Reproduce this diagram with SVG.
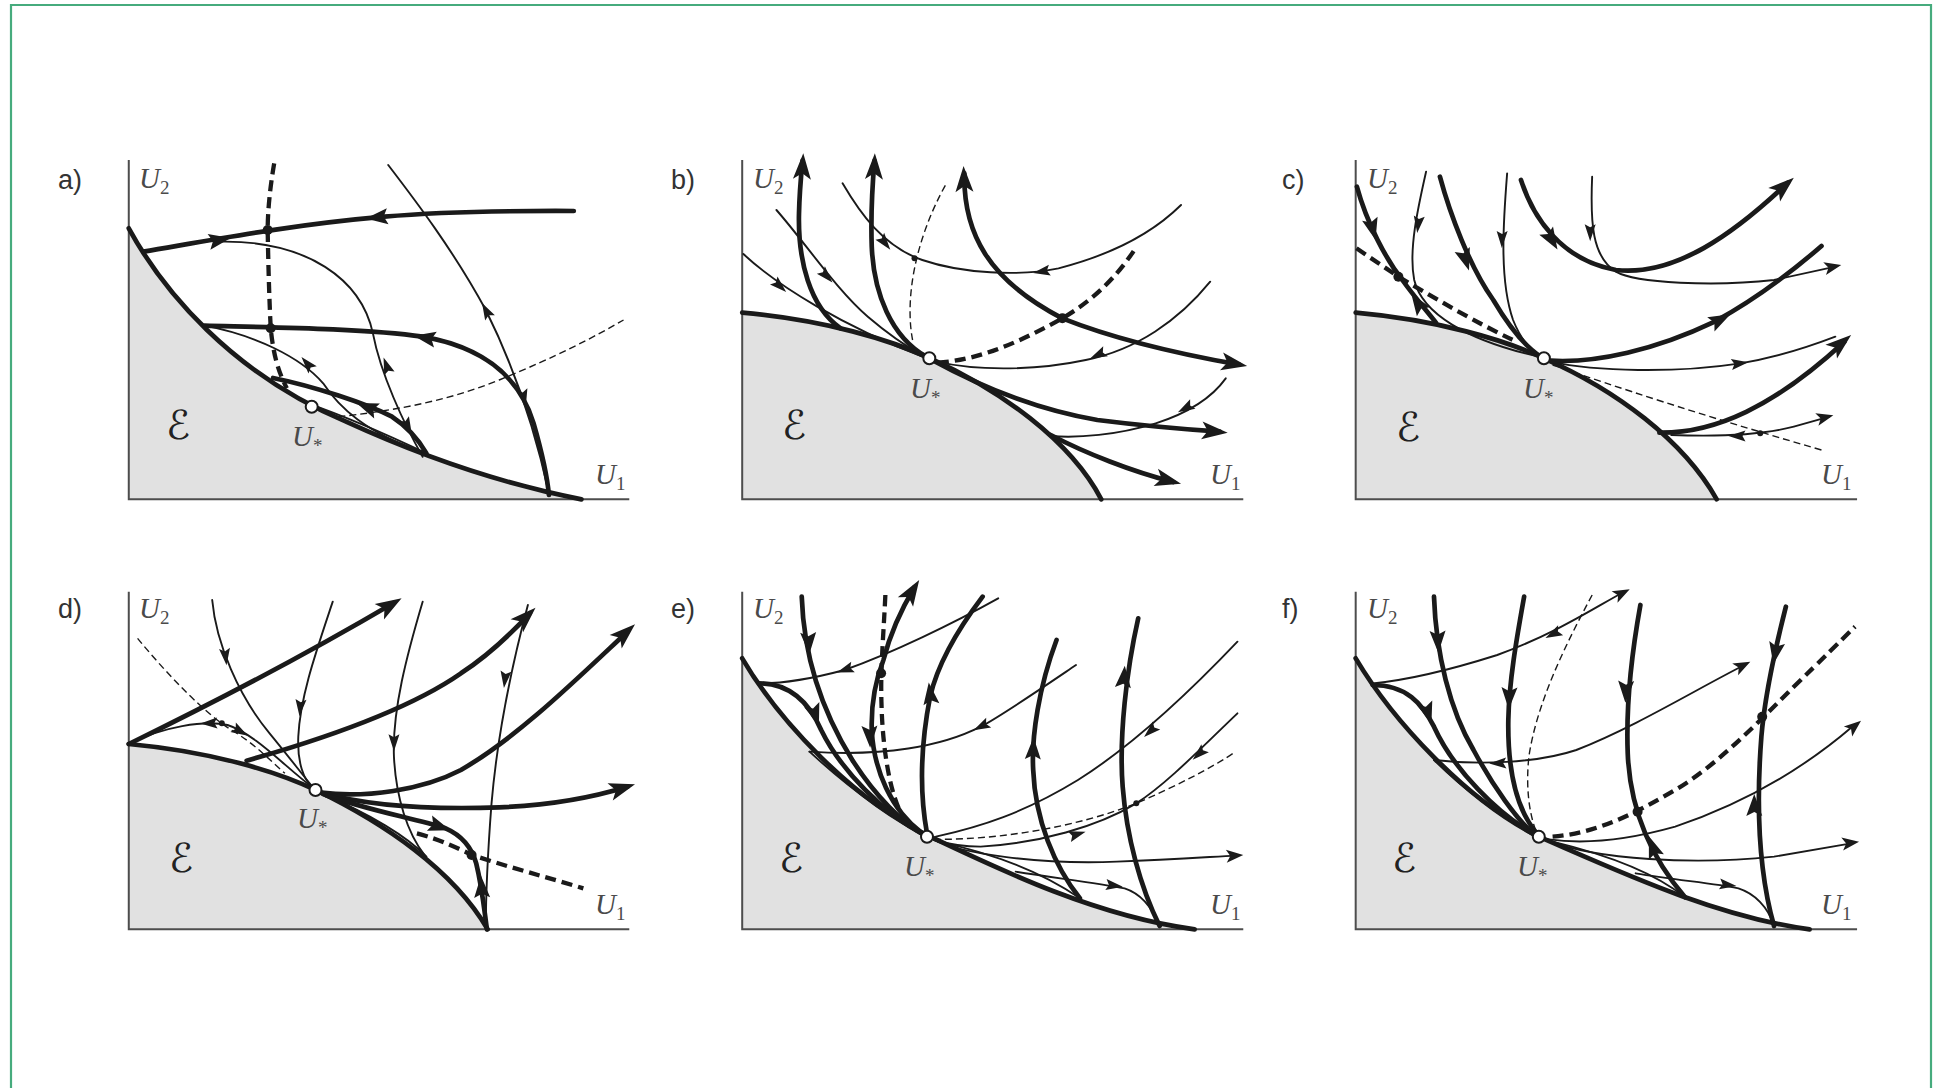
<svg xmlns="http://www.w3.org/2000/svg" xmlns:xlink="http://www.w3.org/1999/xlink" width="1934" height="1088" viewBox="0 0 1934 1088">
<style>
.sh{fill:#e1e1e1;stroke:none}
.ax{fill:none;stroke:#4d4d4d;stroke-width:2;vector-effect:non-scaling-stroke}
.k{fill:none;stroke:#1a1a1a;stroke-width:4.7;stroke-linecap:round;vector-effect:non-scaling-stroke}
.t{fill:none;stroke:#1a1a1a;stroke-width:1.9;stroke-linecap:round;vector-effect:non-scaling-stroke}
.kd{fill:none;stroke:#1a1a1a;stroke-width:4.3;stroke-dasharray:11 6;vector-effect:non-scaling-stroke}
.td{fill:none;stroke:#1a1a1a;stroke-width:1.4;stroke-dasharray:7 4;vector-effect:non-scaling-stroke}
.dot{fill:#1a1a1a}
.us{fill:#fff;stroke:#1a1a1a;stroke-width:2}
.lb{font-family:"Liberation Sans",Arial,sans-serif;font-size:27px;fill:#333}
.u{font-family:"Liberation Serif","Times New Roman",serif;font-style:italic;font-size:29px;fill:#4a4a4a}
.sb{font-size:19px;font-style:normal}
.E{font-family:"DejaVu Sans",sans-serif;font-size:40px;fill:#222}
</style>
<defs>
<path id="A" d="M0,0 L-26,-9 L-20,0 L-26,9 Z" fill="#1a1a1a"/>
<path id="B" d="M11,0 L-11,-8 L-7,0 L-11,8 Z" fill="#1a1a1a"/>
<path id="C" d="M8,0 L-9,-5.5 L-6,0 L-9,5.5 Z" fill="#1a1a1a"/>
<path id="D" d="M0,0 L-17,-6.5 L-13,0 L-17,6.5 Z" fill="#1a1a1a"/>
</defs>
<path id="frame" d="M11,1090 V5 H1931 V1090" fill="none" stroke="#46ab7d" stroke-width="2.2"/>

<g id="panel-a">
<g transform="translate(40,140) scale(0.38265,0.33333)">
<path class="sh" d="M232,265 C320,450 500,700 800,845 C1000,950 1200,1030 1415,1078 L232,1078 Z"/>
<path class="ax" d="M232,60 V1078 H1540"/>
<g id="connectors-a">
<path class="k" d="M232,265 C320,450 500,700 800,845 C1000,950 1200,1030 1415,1078"/>
<path class="k" d="M270,335 C450,300 650,255 900,230 C1050,215 1200,212 1395,213"/>
<path class="k" d="M430,557 C600,562 850,565 1000,590 C1150,620 1250,700 1290,850 C1310,930 1325,1000 1330,1065"/>
<path class="k" d="M609,714 C720,740 850,790 920,830 C960,860 990,900 1010,940"/>
<path class="kd" d="M612,70 C600,150 595,220 595,270 C597,400 600,500 603,565 C610,650 625,700 645,745"/>
<path class="t" d="M470,305 C700,300 840,420 870,580 C890,700 950,850 1000,950"/>
<path class="t" d="M910,75 C980,180 1080,330 1165,510 C1230,660 1290,850 1330,1060"/>
<path class="t" d="M430,557 C560,585 680,650 740,730 C780,800 850,880 1010,940"/>
<path class="t" d="M700,790 C800,830 900,880 1010,940"/>
<path class="td" d="M780,830 C900,815 1050,790 1200,720 C1350,650 1450,590 1525,540"/>
<use href="#B" transform="translate(470,300) scale(2.6134,3) rotate(-10)"/>
<use href="#B" transform="translate(880,232) scale(2.6134,3) rotate(174)"/>
<use href="#B" transform="translate(1005,593) scale(2.6134,3) rotate(190)"/>
<use href="#C" transform="translate(905,675) scale(2.6134,3) rotate(250)"/>
<use href="#C" transform="translate(962,860) scale(2.6134,3) rotate(63)"/>
<use href="#C" transform="translate(1165,510) scale(2.6134,3) rotate(242)"/>
<use href="#C" transform="translate(1265,775) scale(2.6134,3) rotate(77)"/>
<use href="#B" transform="translate(854,801) scale(2.6134,3) rotate(201)"/>
<use href="#C" transform="translate(697,669) scale(2.6134,3) rotate(229)"/>
</g>
</g>
<circle class="dot" cx="267.7" cy="230" r="5"/>
<circle class="dot" cx="270.7" cy="328.3" r="5"/>
<circle class="us" cx="311.7" cy="406.7" r="6"/>
<text class="lb" x="58" y="189">a)</text>
<text class="u" x="139" y="188">U<tspan class="sb" dy="6">2</tspan></text>
<text class="u" x="595" y="484">U<tspan class="sb" dy="6">1</tspan></text>
<text class="E" x="166" y="439">ℰ</text>
<text class="u" x="292" y="446">U<tspan class="sb" dy="6">*</tspan></text>
</g>

<g id="panel-b">
<g transform="translate(650,140) scale(0.38903,0.33333)">
<path class="sh" d="M237,518 C450,540 620,600 720,655 C900,750 1080,900 1160,1078 L237,1078 Z"/>
<path class="ax" d="M237,60 V1078 H1525"/>
<g id="connectors-b">
<path class="k" d="M237,518 C450,540 620,600 720,655 C900,750 1080,900 1160,1078"/>
<path class="k" d="M490,565 C410,500 380,360 383,220 C384,160 388,110 392,62"/>
<path class="k" d="M710,650 C620,590 575,460 570,320 C567,220 572,130 577,62"/>
<path class="k" d="M808,100 C805,280 870,420 1060,535 C1200,600 1350,640 1515,674"/>
<path class="k" d="M725,660 C850,740 1000,810 1150,840 C1300,862 1400,870 1465,875"/>
<path class="k" d="M1030,885 C1120,940 1240,995 1345,1026"/>
<path class="kd" d="M740,668 C850,660 960,600 1060,535 C1140,480 1200,410 1245,330"/>
<path class="t" d="M240,342 C330,440 500,560 700,650"/>
<path class="t" d="M325,210 C400,310 480,450 560,530 C610,580 660,620 705,650"/>
<path class="t" d="M495,130 C540,220 600,320 700,360 C800,400 950,410 1050,385 C1200,340 1300,270 1365,195"/>
<path class="t" d="M1440,425 C1360,540 1250,630 1120,660 C1000,690 850,695 735,665"/>
<path class="t" d="M1480,715 C1440,780 1380,820 1300,850 C1200,885 1100,895 1030,888"/>
<path class="td" d="M675,600 C655,480 680,300 762,130"/>
<use href="#A" transform="translate(394,40) scale(2.5705,3) rotate(-87)"/>
<use href="#A" transform="translate(578,40) scale(2.5705,3) rotate(-88)"/>
<use href="#A" transform="translate(806,78) scale(2.5705,3) rotate(-92)"/>
<use href="#A" transform="translate(1535,678) scale(2.5705,3) rotate(10)"/>
<use href="#A" transform="translate(1485,878) scale(2.5705,3) rotate(5)"/>
<use href="#A" transform="translate(1365,1031) scale(2.5705,3) rotate(14)"/>
<use href="#C" transform="translate(335,440) scale(2.5705,3) rotate(43)"/>
<use href="#C" transform="translate(455,410) scale(2.5705,3) rotate(47)"/>
<use href="#C" transform="translate(605,310) scale(2.5705,3) rotate(52)"/>
<use href="#C" transform="translate(1005,395) scale(2.5705,3) rotate(170)"/>
<use href="#C" transform="translate(1150,645) scale(2.5705,3) rotate(155)"/>
<use href="#C" transform="translate(1375,805) scale(2.5705,3) rotate(151)"/>
</g>
</g>
<circle class="dot" cx="1062.4" cy="318.3" r="5"/>
<circle class="dot" cx="914.5" cy="258.3" r="3"/>
<circle class="us" cx="929.3" cy="358.3" r="6"/>
<text class="lb" x="671" y="189">b)</text>
<text class="u" x="753" y="188">U<tspan class="sb" dy="6">2</tspan></text>
<text class="u" x="1210" y="484">U<tspan class="sb" dy="6">1</tspan></text>
<text class="E" x="782" y="439">ℰ</text>
<text class="u" x="910" y="398">U<tspan class="sb" dy="6">*</tspan></text>
</g>

<g id="panel-c">
<g transform="translate(1260,140) scale(0.39541,0.33333)">
<path class="sh" d="M242,518 C450,540 620,600 718,655 C900,750 1070,900 1155,1078 L242,1078 Z"/>
<path class="ax" d="M242,60 V1078 H1510"/>
<g id="connectors-c">
<path class="k" d="M242,518 C450,540 620,600 718,655 C900,750 1070,900 1155,1078"/>
<path class="k" d="M245,140 C270,250 320,360 360,420 C390,470 420,510 445,548"/>
<path class="t" d="M420,95 C400,200 375,330 390,420 C410,520 520,600 705,650"/>
<path class="k" d="M455,110 C480,220 530,380 590,480 C630,560 670,620 710,650"/>
<path class="t" d="M625,100 C615,250 605,420 640,540 C660,600 690,640 712,652"/>
<path class="k" d="M660,120 C690,230 760,360 900,390 C1050,410 1200,280 1335,128"/>
<path class="t" d="M840,110 C835,250 840,350 900,395 C950,430 1150,440 1300,420 L1455,380"/>
<path class="k" d="M735,662 C850,670 1000,630 1150,545 C1250,480 1350,390 1420,318"/>
<path class="t" d="M735,665 C850,695 1050,700 1215,670 C1320,650 1400,615 1455,590"/>
<path class="k" d="M1010,878 C1150,880 1300,800 1478,605"/>
<path class="t" d="M1040,885 C1150,890 1270,885 1350,860 L1440,830"/>
<path class="kd" d="M244,325 L350,410 C450,480 550,550 640,600"/>
<path class="td" d="M740,675 C900,740 1100,820 1420,930"/>
<use href="#B" transform="translate(285,268) scale(2.529,3) rotate(75)"/>
<use href="#B" transform="translate(398,488) scale(2.529,3) rotate(236)"/>
<use href="#C" transform="translate(400,255) scale(2.529,3) rotate(97)"/>
<use href="#B" transform="translate(520,360) scale(2.529,3) rotate(72)"/>
<use href="#C" transform="translate(612,300) scale(2.529,3) rotate(91)"/>
<use href="#B" transform="translate(738,300) scale(2.529,3) rotate(59)"/>
<use href="#A" transform="translate(1350,113) scale(2.529,3) rotate(-41)"/>
<use href="#C" transform="translate(835,280) scale(2.529,3) rotate(90)"/>
<use href="#D" transform="translate(1470,375) scale(2.529,3) rotate(-12)"/>
<use href="#B" transform="translate(1165,538) scale(2.529,3) rotate(-27)"/>
<use href="#C" transform="translate(1215,670) scale(2.529,3) rotate(-7)"/>
<use href="#A" transform="translate(1495,585) scale(2.529,3) rotate(-40)"/>
<use href="#C" transform="translate(1205,888) scale(2.529,3) rotate(180)"/>
<use href="#D" transform="translate(1450,826) scale(2.529,3) rotate(-14)"/>
</g>
</g>
<circle class="dot" cx="1398.4" cy="276.7" r="5"/>
<circle class="dot" cx="1760.2" cy="433.3" r="3"/>
<circle class="us" cx="1543.9" cy="358.3" r="6"/>
<text class="lb" x="1282" y="189">c)</text>
<text class="u" x="1367" y="188">U<tspan class="sb" dy="6">2</tspan></text>
<text class="u" x="1821" y="484">U<tspan class="sb" dy="6">1</tspan></text>
<text class="E" x="1396" y="441">ℰ</text>
<text class="u" x="1523" y="398">U<tspan class="sb" dy="6">*</tspan></text>
</g>

<g id="panel-d">
<g transform="translate(40,570) scale(0.38265,0.33333)">
<path class="sh" d="M232,522 C450,545 620,605 720,660 C900,760 1080,900 1170,1078 L232,1078 Z"/>
<path class="ax" d="M232,65 V1078 H1540"/>
<g id="connectors-d">
<path class="k" d="M232,522 C450,545 620,605 720,660 C900,760 1080,900 1170,1078"/>
<path class="k" d="M232,522 C450,400 700,250 925,98"/>
<path class="k" d="M540,572 C700,520 950,430 1100,310 C1180,250 1240,180 1280,130"/>
<path class="k" d="M735,668 C850,685 1000,660 1100,600 C1250,500 1400,330 1535,185"/>
<path class="k" d="M735,668 C850,705 1000,720 1200,712 C1350,705 1450,680 1535,650"/>
<path class="k" d="M740,672 C850,720 980,745 1060,775 C1110,800 1130,840 1140,880 C1155,950 1160,1010 1168,1078"/>
<path class="t" d="M450,90 C460,220 520,380 600,490 C650,560 690,620 712,650"/>
<path class="t" d="M765,95 C720,250 680,380 675,500 C672,580 690,630 712,652"/>
<path class="t" d="M1000,95 C960,250 920,420 925,560 C930,680 960,790 1005,855"/>
<path class="t" d="M1275,105 C1230,300 1195,500 1180,700 C1170,850 1165,950 1165,1078"/>
<path class="t" d="M232,522 C320,470 430,450 490,465 C560,490 640,590 712,652"/>
<path class="t" d="M745,678 C860,730 960,800 1010,860"/>
<path class="kd" d="M985,790 C1050,810 1100,840 1130,855 C1220,890 1320,920 1420,955"/>
<path class="td" d="M255,205 C330,310 430,430 500,480 C560,520 600,570 640,610"/>
<use href="#A" transform="translate(945,85) scale(2.6134,3) rotate(-31)"/>
<use href="#A" transform="translate(1295,113) scale(2.6134,3) rotate(-44)"/>
<use href="#A" transform="translate(1555,163) scale(2.6134,3) rotate(-42)"/>
<use href="#A" transform="translate(1555,643) scale(2.6134,3) rotate(-17)"/>
<use href="#B" transform="translate(1045,770) scale(2.6134,3) rotate(19)"/>
<use href="#B" transform="translate(1154,950) scale(2.6134,3) rotate(-93)"/>
<use href="#C" transform="translate(485,262) scale(2.6134,3) rotate(83)"/>
<use href="#C" transform="translate(680,415) scale(2.6134,3) rotate(95)"/>
<use href="#C" transform="translate(925,520) scale(2.6134,3) rotate(90)"/>
<use href="#C" transform="translate(1215,330) scale(2.6134,3) rotate(97)"/>
<use href="#C" transform="translate(440,460) scale(2.6134,3) rotate(178)"/>
<use href="#C" transform="translate(525,485) scale(2.6134,3) rotate(30)"/>
</g>
</g>
<circle class="dot" cx="471.6" cy="855" r="5"/>
<circle class="dot" cx="221.8" cy="723.3" r="3"/>
<circle class="us" cx="315.5" cy="790" r="6"/>
<text class="lb" x="58" y="618">d)</text>
<text class="u" x="139" y="618">U<tspan class="sb" dy="6">2</tspan></text>
<text class="u" x="595" y="914">U<tspan class="sb" dy="6">1</tspan></text>
<text class="E" x="169" y="872">ℰ</text>
<text class="u" x="297" y="828">U<tspan class="sb" dy="6">*</tspan></text>
</g>

<g id="panel-e">
<g transform="translate(650,570) scale(0.38903,0.33333)">
<path class="sh" d="M237,265 C330,450 520,690 720,800 C900,900 1150,1040 1400,1078 L237,1078 Z"/>
<path class="ax" d="M237,65 V1078 H1525"/>
<g id="connectors-e">
<path class="k" d="M237,265 C330,450 520,690 720,800 C900,900 1150,1040 1400,1078"/>
<path class="k" d="M390,80 C395,250 440,420 520,570 C580,680 650,760 705,795"/>
<path class="k" d="M280,340 C360,340 410,400 440,480 C490,600 600,730 705,795"/>
<path class="k" d="M700,790 C620,720 575,600 570,480 C568,400 580,330 600,270 C620,180 650,110 680,52"/>
<path class="kd" d="M605,75 C600,200 592,300 595,400 C598,550 620,680 648,735"/>
<path class="k" d="M855,80 C790,180 740,280 720,380 C700,500 690,650 712,790"/>
<path class="k" d="M1045,210 C1000,350 980,500 985,600 C990,750 1040,890 1105,985"/>
<path class="k" d="M1255,145 C1225,300 1205,500 1215,650 C1225,800 1260,950 1310,1068"/>
<path class="t" d="M895,85 C780,160 620,250 500,300 C420,325 340,340 285,340"/>
<path class="t" d="M1095,285 C1000,360 900,440 850,470 C750,530 600,560 410,545"/>
<path class="t" d="M1510,215 C1400,350 1250,520 1100,630 C960,730 850,770 735,800"/>
<path class="t" d="M1510,430 C1420,530 1330,640 1250,700 C1150,770 1000,820 850,830 C800,830 760,820 730,810"/>
<path class="t" d="M730,810 C800,850 1000,885 1200,875 C1350,868 1450,860 1505,857"/>
<path class="t" d="M940,905 C1050,925 1150,940 1220,955 C1260,970 1290,1010 1310,1068"/>
<path class="t" d="M740,815 C880,850 1000,900 1105,985"/>
<path class="t" d="M410,545 C480,620 580,720 705,795"/>
<path class="td" d="M730,808 C900,810 1100,770 1250,700 C1350,650 1450,590 1505,545"/>
<use href="#B" transform="translate(408,220) scale(2.5705,3) rotate(87)"/>
<use href="#B" transform="translate(425,435) scale(2.5705,3) rotate(71)"/>
<use href="#A" transform="translate(692,30) scale(2.5705,3) rotate(-58)"/>
<use href="#B" transform="translate(565,500) scale(2.5705,3) rotate(88)"/>
<use href="#B" transform="translate(720,370) scale(2.5705,3) rotate(-97)"/>
<use href="#B" transform="translate(985,535) scale(2.5705,3) rotate(-88)"/>
<use href="#B" transform="translate(1218,320) scale(2.5705,3) rotate(-85)"/>
<use href="#C" transform="translate(500,300) scale(2.5705,3) rotate(161)"/>
<use href="#C" transform="translate(850,470) scale(2.5705,3) rotate(153)"/>
<use href="#C" transform="translate(1285,485) scale(2.5705,3) rotate(137)"/>
<use href="#C" transform="translate(1410,553) scale(2.5705,3) rotate(137)"/>
<use href="#C" transform="translate(1100,792) scale(2.5705,3) rotate(-17)"/>
<use href="#D" transform="translate(1525,855) scale(2.5705,3) rotate(-4)"/>
<use href="#C" transform="translate(1195,947) scale(2.5705,3) rotate(7)"/>
</g>
</g>
<circle class="dot" cx="881.1" cy="673.3" r="5"/>
<circle class="dot" cx="1136.3" cy="803.3" r="3"/>
<circle class="us" cx="927" cy="836.7" r="6"/>
<text class="lb" x="671" y="618">e)</text>
<text class="u" x="753" y="618">U<tspan class="sb" dy="6">2</tspan></text>
<text class="u" x="1210" y="914">U<tspan class="sb" dy="6">1</tspan></text>
<text class="E" x="779" y="872">ℰ</text>
<text class="u" x="904" y="876">U<tspan class="sb" dy="6">*</tspan></text>
</g>

<g id="panel-f">
<g transform="translate(1260,570) scale(0.39541,0.33333)">
<path class="sh" d="M242,265 C335,450 520,690 705,800 C900,900 1150,1040 1390,1078 L242,1078 Z"/>
<path class="ax" d="M242,65 V1078 H1510"/>
<g id="connectors-f">
<path class="k" d="M242,265 C335,450 520,690 705,800 C900,900 1150,1040 1390,1078"/>
<path class="k" d="M440,80 C445,250 480,420 540,540 C590,650 650,750 695,795"/>
<path class="k" d="M285,345 C370,345 410,400 440,470 C490,600 600,730 695,795"/>
<path class="k" d="M668,80 C650,200 630,330 628,450 C626,600 650,720 700,790"/>
<path class="k" d="M962,105 C940,250 925,400 930,550 C935,700 980,850 1075,982"/>
<path class="k" d="M1330,110 C1300,250 1275,400 1268,500 C1255,700 1260,900 1300,1068"/>
<path class="kd" d="M740,800 C850,790 950,730 1050,660 C1150,590 1250,470 1350,350 C1420,270 1470,210 1505,170"/>
<path class="t" d="M920,66 C850,110 750,190 600,255 C480,300 380,330 285,340"/>
<path class="t" d="M1225,285 C1100,360 950,470 800,540 C700,580 550,585 440,570"/>
<path class="t" d="M1500,468 C1400,570 1250,690 1050,770 C900,820 800,820 730,808"/>
<path class="t" d="M730,812 C850,870 1100,885 1300,860 L1495,820"/>
<path class="t" d="M950,910 C1050,930 1150,940 1210,955 C1250,970 1285,1010 1300,1068"/>
<path class="t" d="M740,815 C880,855 1000,910 1075,982"/>
<path class="t" d="M440,570 C500,640 600,740 695,795"/>
<path class="td" d="M840,75 C770,230 700,400 680,560 C672,650 680,730 700,790"/>
<use href="#B" transform="translate(450,215) scale(2.529,3) rotate(88)"/>
<use href="#B" transform="translate(425,430) scale(2.529,3) rotate(72)"/>
<use href="#B" transform="translate(630,385) scale(2.529,3) rotate(92)"/>
<use href="#B" transform="translate(925,365) scale(2.529,3) rotate(92)"/>
<use href="#B" transform="translate(993,830) scale(2.529,3) rotate(-110)"/>
<use href="#B" transform="translate(1303,250) scale(2.529,3) rotate(100)"/>
<use href="#B" transform="translate(1250,705) scale(2.529,3) rotate(-90)"/>
<use href="#D" transform="translate(935,58) scale(2.529,3) rotate(-27)"/>
<use href="#C" transform="translate(740,193) scale(2.529,3) rotate(153)"/>
<use href="#D" transform="translate(1240,275) scale(2.529,3) rotate(-27)"/>
<use href="#C" transform="translate(600,580) scale(2.529,3) rotate(178)"/>
<use href="#D" transform="translate(1520,452) scale(2.529,3) rotate(-40)"/>
<use href="#D" transform="translate(1515,815) scale(2.529,3) rotate(-8)"/>
<use href="#C" transform="translate(1185,945) scale(2.529,3) rotate(7)"/>
</g>
</g>
<circle class="dot" cx="1637.6" cy="811.7" r="5"/>
<circle class="dot" cx="1762.2" cy="716.7" r="5"/>
<circle class="us" cx="1538.8" cy="836.7" r="6"/>
<text class="lb" x="1282" y="618">f)</text>
<text class="u" x="1367" y="618">U<tspan class="sb" dy="6">2</tspan></text>
<text class="u" x="1821" y="914">U<tspan class="sb" dy="6">1</tspan></text>
<text class="E" x="1392" y="872">ℰ</text>
<text class="u" x="1517" y="876">U<tspan class="sb" dy="6">*</tspan></text>
</g>
</svg>
